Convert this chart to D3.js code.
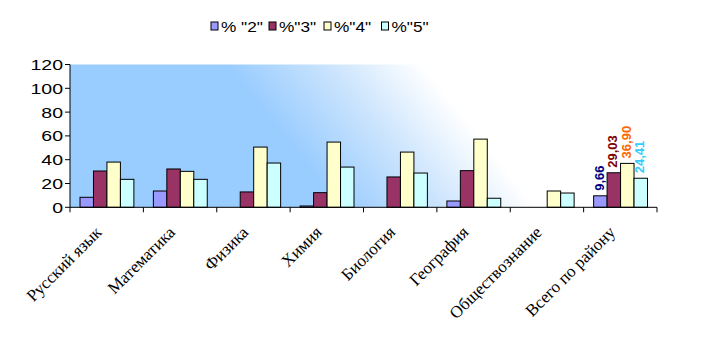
<!DOCTYPE html>
<html>
<head>
<meta charset="utf-8">
<script src="https://cdn.jsdelivr.net/npm/d3@7/dist/d3.min.js"></script>
<style>
  html, body { margin: 0; padding: 0; background: #fff; }
  svg { display: block; }
</style>
</head>
<body>
<svg id="chart" width="702" height="341"></svg>
<script>
const categories = ["Русский язык", "Математика", "Физика", "Химия", "Биология", "География", "Обществознание", "Всего по району"];
const seriesNames = ['% "2"', '%"3"', '%"4"', '%"5"'];
const s2 = [8.4, 13.7, 0, 1.1, 0, 5.3, 0, 9.66];
const s3 = [30.5, 32.2, 12.9, 12.3, 25.5, 30.8, 0, 29.03];
const s4 = [38.0, 30.2, 50.6, 54.8, 46.4, 57.3, 13.7, 36.90];
const s5 = [23.5, 23.5, 37.2, 33.8, 28.8, 7.6, 12.0, 24.41];
const yTicks = [0, 20, 40, 60, 80, 100, 120];
const labelledCategory = "Всего по району";

const seriesValues = [s2, s3, s4, s5];
const fills = ["#9999ff", "#993366", "#ffffcc", "#ccffff"];
const labelColors = ["#000080", "#800000", "#ff6600", "#33ccff"];

const svg = d3.select("#chart");
const L = 70, R = 657, T = 64.5, B = 207.3;

const x0 = d3.scaleBand().domain(categories).range([L, R]).padding(0);
const x1 = d3.scaleBand().domain(d3.range(seriesNames.length))
  .range([10, x0.bandwidth() - 9.5]).padding(0);
const y = d3.scaleLinear().domain([0, 120]).range([B, T]);

// background gradient
const defs = svg.append("defs");
const grad = defs.append("linearGradient").attr("id", "bg")
  .attr("gradientUnits", "userSpaceOnUse")
  .attr("x1", 225).attr("y1", 64).attr("x2", 345).attr("y2", -32);
grad.append("stop").attr("offset", "0%").attr("stop-color", "#99ccff");
grad.append("stop").attr("offset", "50%").attr("stop-color", "#c9e3fd");
grad.append("stop").attr("offset", "100%").attr("stop-color", "#ffffff");

svg.append("rect").attr("x", L).attr("y", T).attr("width", R - L).attr("height", B - T)
  .attr("fill", "url(#bg)");

// bars
const groups = svg.append("g").selectAll("g").data(categories).join("g")
  .attr("transform", d => `translate(${x0(d)},0)`);
groups.selectAll("rect")
  .data((c, ci) => seriesValues.map((vals, si) => ({ si, v: vals[ci] })).filter(d => d.v > 0))
  .join("rect")
  .attr("x", d => x1(d.si))
  .attr("width", x1.bandwidth())
  .attr("y", d => y(d.v))
  .attr("height", d => y(0) - y(d.v))
  .attr("fill", d => fills[d.si])
  .attr("stroke", "#000")
  .attr("stroke-width", 1);

// data labels for the total group
const ci = categories.indexOf(labelledCategory);
const fmt = v => d3.format(".2f")(v).replace(".", ",");
svg.append("g").selectAll("text")
  .data(seriesValues.map((vals, si) => ({ si, v: vals[ci] })))
  .join("text")
  .attr("transform", d => `translate(${x0(labelledCategory) + x1(d.si) + x1.bandwidth() / 2 + 3.5},${y(d.v) - 5}) rotate(-90)`)
  .attr("text-anchor", "start")
  .attr("font-family", "Liberation Sans, Arial, sans-serif")
  .attr("font-weight", "bold")
  .attr("font-size", 13)
  .attr("fill", d => labelColors[d.si])
  .text(d => fmt(d.v));

// axes
const xAxis = svg.append("g");
xAxis.append("line").attr("x1", L).attr("x2", R).attr("y1", B).attr("y2", B).attr("stroke", "#000");
xAxis.selectAll("line.t").data(d3.range(categories.length + 1)).join("line").attr("class", "t")
  .attr("x1", i => L + i * x0.step()).attr("x2", i => L + i * x0.step())
  .attr("y1", B).attr("y2", B + 5).attr("stroke", "#000");
xAxis.selectAll("text").data(categories).join("text")
  .attr("transform", d => `translate(${x0(d) + x0.bandwidth() / 2 - 4},${B + 26}) rotate(-45)`)
  .attr("text-anchor", "end")
  .attr("font-family", "Liberation Serif, Times New Roman, serif")
  .attr("font-size", 17)
  .attr("fill", "#000")
  .text(d => d);

const yAxis = svg.append("g");
yAxis.append("line").attr("x1", L).attr("x2", L).attr("y1", T).attr("y2", B).attr("stroke", "#000");
yAxis.selectAll("line.t").data(yTicks).join("line").attr("class", "t")
  .attr("x1", L - 5).attr("x2", L).attr("y1", d => y(d)).attr("y2", d => y(d)).attr("stroke", "#000");
yAxis.selectAll("text").data(yTicks).join("text")
  .attr("transform", d => `translate(63,${y(d) + 5.5}) scale(1.3,1)`)
  .attr("text-anchor", "end")
  .attr("font-family", "Liberation Sans, Arial, sans-serif")
  .attr("font-size", 15)
  .attr("fill", "#000")
  .text(d => d);

// legend
const legendX = [211, 269, 324, 381.5];
const lg = svg.append("g").selectAll("g").data(seriesNames).join("g")
  .attr("transform", (d, i) => `translate(${legendX[i]},0)`);
lg.append("rect").attr("x", 0).attr("y", 22).attr("width", 7).attr("height", 8)
  .attr("fill", (d, i) => fills[i]).attr("stroke", "#000").attr("stroke-width", 1);
lg.append("text")
  .attr("transform", "translate(10,31.5) scale(1.15,1)")
  .attr("font-family", "Liberation Sans, Arial, sans-serif")
  .attr("font-size", 15)
  .attr("fill", "#000")
  .text(d => d);
</script>
</body>
</html>
